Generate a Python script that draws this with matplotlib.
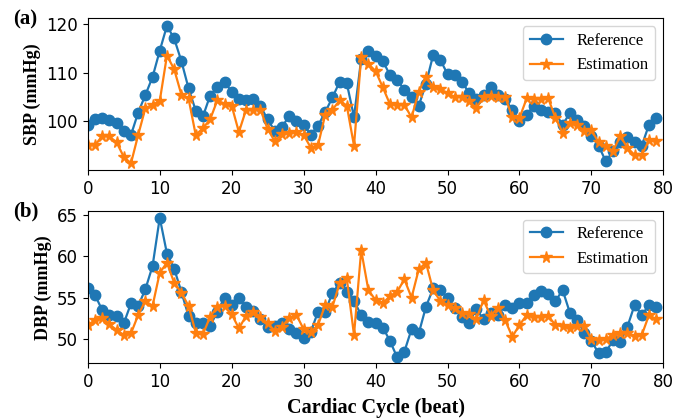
import numpy as np
import matplotlib.pyplot as plt

beats = np.arange(80)

sbp_ref = [99.2, 100.5, 100.7, 100.3, 99.6, 98.0, 97.2, 101.8, 105.4, 109.1,
           114.5, 119.6, 117.0, 112.4, 106.8, 102.2, 101.0, 105.3, 107.0, 108.0,
           106.1, 104.5, 104.3, 104.5, 103.1, 100.4, 98.0, 98.9, 101.1, 100.1,
           99.3, 97.3, 99.1, 101.9, 104.9, 108.1, 107.8, 100.9, 112.8, 114.5,
           113.4, 112.4, 109.5, 108.5, 106.5, 105.1, 103.2, 107.7, 113.6, 112.6,
           109.7, 109.5, 108.0, 105.9, 104.5, 105.4, 107.0, 105.4, 104.6, 102.4,
           100.0, 101.4, 103.2, 102.4, 101.9, 101.8, 99.2, 101.8, 100.3, 99.1,
           97.0, 95.0, 91.8, 93.9, 95.7, 96.8, 95.8, 95.0, 99.3, 100.7]
sbp_est = [95.1, 95.1, 97.0, 96.9, 95.7, 92.7, 91.4, 97.2, 102.7, 103.4,
           104.2, 113.5, 110.7, 105.5, 104.7, 97.2, 98.6, 100.4, 104.3, 103.6,
           103.2, 97.8, 102.4, 102.3, 102.4, 98.4, 95.9, 97.5, 97.6, 97.8,
           97.2, 94.6, 95.1, 101.4, 102.4, 104.3, 103.2, 95.0, 113.2, 111.8,
           110.3, 107.0, 103.5, 103.4, 103.4, 100.8, 106.1, 109.2, 107.0, 106.6,
           105.8, 105.0, 105.1, 104.2, 102.7, 105.0, 105.2, 105.1, 105.1, 100.8,
           100.7, 104.7, 104.6, 104.6, 104.7, 100.7, 97.7, 99.6, 99.3, 98.1,
           98.2, 95.7, 95.0, 93.9, 97.0, 94.6, 93.1, 93.1, 96.1, 95.9]

dbp_ref = [56.1, 55.3, 53.5, 52.9, 52.8, 51.9, 54.3, 54.0, 56.0, 58.8,
           64.6, 60.3, 58.5, 55.7, 52.8, 51.9, 52.0, 51.6, 53.3, 55.0,
           54.1, 54.9, 53.9, 53.4, 52.4, 51.5, 51.6, 52.0, 51.2, 50.7,
           50.2, 50.9, 53.3, 53.3, 55.6, 56.7, 55.7, 54.6, 52.9, 52.1,
           51.9, 51.4, 49.8, 47.8, 48.5, 51.2, 50.7, 53.9, 56.1, 55.9,
           55.0, 53.7, 52.7, 52.0, 53.6, 52.4, 53.2, 52.9, 54.1, 53.7,
           54.3, 54.3, 55.3, 55.8, 55.4, 54.6, 55.9, 53.2, 52.3, 50.8,
           49.8, 48.3, 48.4, 49.9, 49.6, 51.5, 54.1, 52.9, 54.1, 53.9]
dbp_est = [51.7, 52.3, 52.6, 51.8, 51.1, 50.5, 50.7, 52.9, 54.6, 54.0,
           58.0, 59.2, 56.8, 55.6, 54.0, 50.8, 50.6, 52.7, 53.9, 54.0,
           53.0, 51.3, 52.8, 53.3, 52.7, 51.9, 51.0, 51.5, 52.6, 52.9,
           51.2, 50.9, 51.7, 54.1, 53.9, 56.7, 57.3, 50.5, 60.7, 55.9,
           54.7, 54.3, 55.2, 55.7, 57.2, 55.0, 58.4, 59.2, 55.9, 54.6,
           54.1, 53.7, 53.1, 53.0, 52.4, 54.7, 52.8, 53.8, 52.3, 50.3,
           51.7, 52.9, 52.7, 52.7, 52.8, 51.7, 51.6, 51.3, 51.6, 51.6,
           50.0, 49.9, 50.0, 50.5, 50.7, 50.7, 50.4, 50.5, 52.9, 52.4]

serif = ['Liberation Serif', 'DejaVu Serif']
labelfont = dict(family=serif, fontweight='bold', fontsize=13)

fig, (ax1, ax2) = plt.subplots(2, 1, figsize=(6.86, 4.19), dpi=100)
fig.subplots_adjust(left=0.128, right=0.967, top=0.957, bottom=0.133, hspace=0.27)

for ax, ref, est, ylab in [(ax1, sbp_ref, sbp_est, "SBP (mmHg)"),
                           (ax2, dbp_ref, dbp_est, "DBP (mmHg)")]:
    ax.plot(beats, ref, marker='o', markersize=7.5, linewidth=1.6,
            color='#1f77b4', label='Reference')
    ax.plot(beats, est, marker='*', markersize=8.5, linewidth=1.6,
            color='#ff7f0e', label='Estimation')
    ax.set_xlim(0, 80)
    ax.set_ylabel(ylab, **labelfont)
    ax.tick_params(labelsize=12)
    ax.legend(loc='upper right', prop={'family': serif, 'size': 12})

ax1.set_ylim(90, 121.2)
ax1.set_yticks([100, 110, 120])
ax2.set_ylim(47.1, 65.4)
ax2.set_yticks([50, 55, 60, 65])
ax2.set_xlabel("Cardiac Cycle (beat)", labelpad=5, family=serif,
               fontweight='bold', fontsize=14.5)

fig.text(0.019, 0.978, "(a)", ha='left', va='top', family=serif,
         fontweight='bold', fontsize=15)
fig.text(0.019, 0.518, "(b)", ha='left', va='top', family=serif,
         fontweight='bold', fontsize=15)

plt.savefig("out.png", dpi=100)
